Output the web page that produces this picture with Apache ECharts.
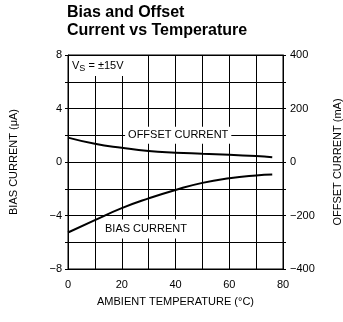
<!DOCTYPE html>
<html>
<head>
<meta charset="utf-8">
<script src="https://cdn.jsdelivr.net/npm/echarts@6/dist/echarts.min.js"></script>
<style>
  html, body { margin: 0; padding: 0; background: #fff; }
  #chart { width: 343px; height: 322px; }
</style>
</head>
<body>
<div id="chart"></div>
<script>
// ambient temperature (°C)
const temps = [0, 10, 20, 30, 40, 50, 60, 70, 76]
// bias current, uA (left axis)
const biasCurrent = [-5.27, -4.35, -3.45, -2.72, -2.09, -1.56, -1.22, -1.01, -0.94]
// offset current, right axis
const offsetCurrent = [91, 68, 53, 41, 35, 31, 27, 22, 18]

const font = 'Liberation Sans'
const minus = v => String(v).replace('-', '\u2212')

const chart = echarts.init(document.getElementById('chart'))
chart.setOption({
  animation: false,
  title: {
    text: 'Bias and Offset\nCurrent vs Temperature',
    left: 67,
    top: 4,
    padding: 0,
    textStyle: { fontFamily: font, fontSize: 16, fontWeight: 'bold', color: '#000', lineHeight: 18 }
  },
  grid: {
    left: 68, right: 60, top: 55, bottom: 53,
    outerBoundsMode: 'none',
    show: true, borderColor: '#000', borderWidth: 1
  },
  xAxis: {
    type: 'value',
    min: 0,
    max: 80,
    interval: 10,
    name: 'AMBIENT TEMPERATURE (°C)',
    nameLocation: 'middle',
    nameGap: 27,
    nameTextStyle: { fontFamily: font, fontSize: 11, color: '#000' },
    axisLine: { lineStyle: { color: '#000' } },
    axisTick: { show: false },
    axisLabel: {
      margin: 10,
      fontFamily: font, fontSize: 11, color: '#000',
      formatter: v => (v % 20 === 0 ? String(v) : '')
    },
    splitLine: { lineStyle: { color: '#000', width: 1 } }
  },
  yAxis: [
    {
      type: 'value',
      min: -8,
      max: 8,
      interval: 2,
      name: 'BIAS CURRENT (μA)',
      nameLocation: 'middle',
      nameGap: 49,
      nameTextStyle: { fontFamily: font, fontSize: 11, color: '#000' },
      axisLine: { show: true, lineStyle: { color: '#000' } },
      axisTick: { show: true, length: 3, lineStyle: { color: '#000' } },
      axisLabel: {
        margin: 6,
        fontFamily: font, fontSize: 11, color: '#000',
        formatter: v => (v % 4 === 0 ? minus(v) : '')
      },
      splitLine: { lineStyle: { color: '#000', width: 1 } }
    },
    {
      type: 'value',
      min: -400,
      max: 400,
      interval: 100,
      position: 'right',
      name: 'OFFSET CURRENT (mA)',
      nameLocation: 'middle',
      nameGap: 49,
      nameTextStyle: { fontFamily: font, fontSize: 11, color: '#000' },
      axisLine: { show: true, lineStyle: { color: '#000' } },
      axisTick: { show: true, length: 3, lineStyle: { color: '#000' } },
      axisLabel: {
        margin: 7,
        fontFamily: font, fontSize: 11, color: '#000',
        formatter: v => (v % 200 === 0 ? minus(v) : '')
      },
      splitLine: { show: false }
    }
  ],
  series: [
    {
      name: 'BIAS CURRENT',
      type: 'line',
      yAxisIndex: 0,
      smooth: true,
      showSymbol: false,
      lineStyle: { color: '#000', width: 2 },
      data: temps.map((t, i) => [t, biasCurrent[i]]),
      markPoint: {
        symbolSize: 0,
        silent: true,
        data: [
          {
            coord: [29, -5],
            label: {
              show: true, position: 'inside', formatter: 'BIAS CURRENT',
              fontFamily: font, fontSize: 11, color: '#000',
              backgroundColor: '#fff', padding: [4, 4, 4, 4]
            }
          },
          {
            coord: [0, 8],
            label: {
              show: true, position: [1, 1], align: 'left', verticalAlign: 'top',
              formatter: 'V{s|S} = ±15V',
              fontFamily: font, fontSize: 11, color: '#000',
              backgroundColor: '#fff', padding: [3, 5, 3, 3],
              rich: { s: { fontFamily: font, fontSize: 9, color: '#000', verticalAlign: 'bottom', padding: [5, 0, 0, 0] } }
            }
          }
        ]
      }
    },
    {
      name: 'OFFSET CURRENT',
      type: 'line',
      yAxisIndex: 1,
      smooth: true,
      showSymbol: false,
      lineStyle: { color: '#000', width: 2 },
      data: temps.map((t, i) => [t, offsetCurrent[i]]),
      markPoint: {
        symbolSize: 0,
        silent: true,
        data: [
          {
            coord: [41, 100],
            label: {
              show: true, position: 'inside', formatter: 'OFFSET CURRENT',
              fontFamily: font, fontSize: 11, color: '#000',
              backgroundColor: '#fff', padding: [3, 3, 3, 3]
            }
          }
        ]
      }
    }
  ]
})
</script>
</body>
</html>
